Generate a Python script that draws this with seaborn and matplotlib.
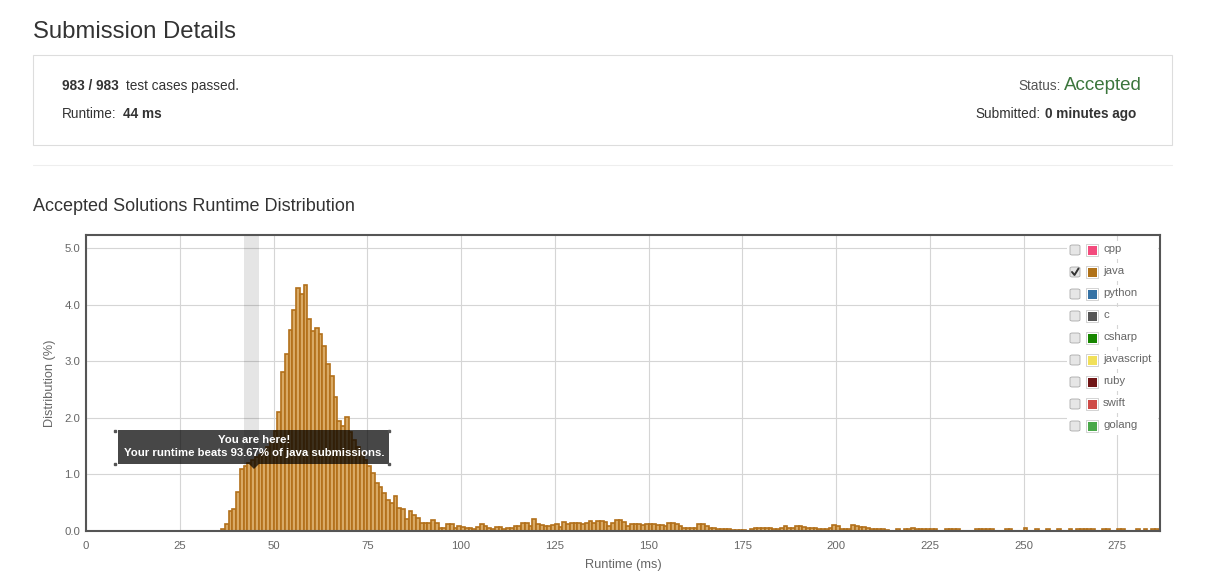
import matplotlib
matplotlib.use("Agg")
import matplotlib.pyplot as plt
import matplotlib as mpl
import seaborn as sns
from matplotlib.patches import Rectangle, FancyBboxPatch, Polygon
from matplotlib.lines import Line2D

# Runtime histogram (ms -> % of accepted java submissions)
runtime_ms = (
    list(range(36, 176))
    + list(range(177, 214))
    + [216, 218, 219, 220, 221, 222, 223, 224, 225, 226, 229, 230, 231, 232,
       237, 238, 239, 240, 241, 245, 246, 250, 253, 256, 259, 262,
       264, 265, 266, 267, 268, 271, 272, 275, 276, 280, 282, 284, 285]
)
distribution = [
    # 36 - 85
    0.03, 0.13, 0.36, 0.39, 0.69, 1.10, 1.15, 1.20, 1.25, 1.30,
    1.35, 1.40, 1.48, 1.58, 1.76, 2.11, 2.81, 3.13, 3.56, 3.90,
    4.30, 4.19, 4.35, 3.74, 3.54, 3.58, 3.48, 3.26, 2.95, 2.74,
    2.36, 1.94, 1.86, 2.02, 1.75, 1.61, 1.49, 1.38, 1.25, 1.15,
    1.03, 0.84, 0.77, 0.68, 0.55, 0.49, 0.62, 0.41, 0.39, 0.21,
    # 86 - 120
    0.36, 0.28, 0.23, 0.14, 0.14, 0.14, 0.19, 0.14, 0.06, 0.06,
    0.12, 0.13, 0.06, 0.09, 0.07, 0.06, 0.05, 0.04, 0.07, 0.12,
    0.09, 0.06, 0.04, 0.07, 0.07, 0.04, 0.06, 0.06, 0.08, 0.08,
    0.15, 0.15, 0.09, 0.21, 0.12,
    # 121 - 175
    0.10, 0.09, 0.08, 0.10, 0.13, 0.07, 0.16, 0.13, 0.15, 0.15,
    0.15, 0.13, 0.15, 0.18, 0.14, 0.18, 0.18, 0.16, 0.09, 0.15,
    0.19, 0.19, 0.16, 0.09, 0.13, 0.13, 0.13, 0.11, 0.12, 0.12,
    0.12, 0.10, 0.10, 0.09, 0.15, 0.15, 0.13, 0.09, 0.06, 0.06,
    0.06, 0.06, 0.12, 0.12, 0.08, 0.06, 0.05, 0.04, 0.04, 0.03,
    0.03, 0.02, 0.02, 0.02, 0.02,
    # 177 - 213
    0.03, 0.06, 0.05, 0.05, 0.06, 0.05, 0.04, 0.04, 0.05, 0.09,
    0.06, 0.06, 0.08, 0.08, 0.07, 0.06, 0.06, 0.06, 0.04, 0.04,
    0.04, 0.06, 0.11, 0.09, 0.04, 0.04, 0.04, 0.10, 0.09, 0.07,
    0.07, 0.05, 0.03, 0.03, 0.03, 0.04, 0.02,
    # sparse tail
    0.03, 0.03, 0.04, 0.06, 0.04, 0.03, 0.03, 0.03, 0.03, 0.03,
    0.03, 0.03, 0.03, 0.03, 0.03, 0.03, 0.03, 0.03, 0.03, 0.03,
    0.03, 0.05, 0.03, 0.03, 0.03, 0.03, 0.03, 0.03, 0.03, 0.03,
    0.03, 0.03, 0.03, 0.04, 0.04, 0.03, 0.03, 0.03, 0.03,
]

x_ticks = [0, 25, 50, 75, 100, 125, 150, 175, 200, 225, 250, 275]
y_ticks = [0.0, 1.0, 2.0, 3.0, 4.0, 5.0]
y_tick_labels = ["0.0", "1.0", "2.0", "3.0", "4.0", "5.0"]

languages = ["cpp", "java", "python", "c", "csharp", "javascript", "ruby", "swift", "golang"]
language_colors = ["#f34b7d", "#b07219", "#3572a5", "#555555", "#178600",
                   "#f1e05a", "#701516", "#cf4b47", "#4aa84a"]

my_runtime = 44
beats_pct = 93.67

sns.set_style("whitegrid")
plt.rcParams["font.family"] = ["Liberation Sans", "DejaVu Sans"]

W, H = 1212, 587
fig = plt.figure(figsize=(W / 100, H / 100), dpi=100)


def fx(x):
    return x / W


def fy(y):
    return 1 - y / H


def ftext(x, y, s, **kw):
    kw.setdefault("va", "center")
    kw.setdefault("color", "#333333")
    return fig.text(fx(x), fy(y), s, **kw)


# header
ftext(33, 32, "Submission Details", fontsize=17.2)
fig.add_artist(Rectangle((fx(33), fy(145)), fx(1172) - fx(33), fy(55) - fy(145),
                         transform=fig.transFigure, fill=False, edgecolor="#dddddd", linewidth=0.8))
ftext(62, 86, "983 / 983", fontsize=9.8, fontweight="bold")
ftext(126, 86, "test cases passed.", fontsize=9.8)
ftext(62, 114, "Runtime:", fontsize=9.8)
ftext(123, 114, f"{my_runtime} ms", fontsize=9.8, fontweight="bold")
ftext(1061, 86, "Status:", fontsize=9.8, ha="right", color="#555555")
ftext(1064, 85, "Accepted", fontsize=13.5, color="#3c763d")
ftext(1041, 114, "Submitted:", fontsize=9.8, ha="right")
ftext(1045, 114, "0 minutes ago", fontsize=9.8, fontweight="bold")
fig.add_artist(Line2D([fx(33), fx(1172)], [fy(165), fy(165)], transform=fig.transFigure,
                      color="#eeeeee", linewidth=0.8))
ftext(33, 207, "Accepted Solutions Runtime Distribution", fontsize=13)

# chart
ax = fig.add_axes([fx(86), fy(531), fx(1160) - fx(86), fy(235) - fy(531)])
ax.set_facecolor("white")
ax.axvspan(my_runtime - 2, my_runtime + 2, color="#000000", alpha=0.1, linewidth=0, zorder=1)
sns.histplot(x=runtime_ms, weights=distribution, binwidth=1, binrange=(0, 287),
             color="#d9aa66", edgecolor="#b2701a", linewidth=1.2, alpha=1,
             ax=ax, zorder=2)
ax.set_xlim(0, 286.4)
ax.set_ylim(0, 5.23)
ax.set_xticks(x_ticks)
ax.set_yticks(y_ticks)
ax.set_yticklabels(y_tick_labels)
ax.grid(True, color="#d5d5d5", linewidth=0.8)
ax.set_axisbelow(True)
ax.tick_params(axis="both", length=0, labelsize=8.2, colors="#666666")
ax.tick_params(axis="x", pad=7)
ax.tick_params(axis="y", pad=4)
ax.set_xlabel("Runtime (ms)", fontsize=9.2, color="#666666", labelpad=6)
ax.set_ylabel("Distribution (%)", fontsize=9.2, color="#666666", labelpad=6)
for sp in ax.spines.values():
    sp.set_visible(True)
    sp.set_color("#555555")
    sp.set_linewidth(1.5)

# legend
for i, (lang, col) in enumerate(zip(languages, language_colors)):
    yc = 250 + 22 * i
    fig.add_artist(Rectangle((fx(1067), fy(yc + 9)), fx(1158) - fx(1067), fy(yc - 9) - fy(yc + 9),
                             transform=fig.transFigure, facecolor="white", edgecolor="none"))
    fig.add_artist(FancyBboxPatch((fx(1070), fy(yc + 5)), fx(10), fy(0) - fy(10),
                                  boxstyle="round,pad=0,rounding_size=0.002",
                                  transform=fig.transFigure, facecolor="#e6e6e6",
                                  edgecolor="#aaaaaa", linewidth=0.6))
    fig.add_artist(Rectangle((fx(1086), fy(yc + 6)), fx(12), fy(0) - fy(12),
                             transform=fig.transFigure, facecolor="white",
                             edgecolor="#cccccc", linewidth=0.6))
    fig.add_artist(Rectangle((fx(1087.5), fy(yc + 4.5)), fx(9), fy(0) - fy(9),
                             transform=fig.transFigure, facecolor=col, edgecolor="none"))
    ftext(1103, yc - 1, lang, fontsize=8.2, color="#666666")
    if lang == "java":
        fig.add_artist(Line2D([fx(1072), fx(1074.5), fx(1078.5)], [fy(yc), fy(yc + 3), fy(yc - 3.5)],
                              transform=fig.transFigure, color="#333333", linewidth=1.4))

# tooltip
fig.add_artist(Rectangle((fx(118), fy(464)), fx(389) - fx(118), fy(430) - fy(464),
                         transform=fig.transFigure, facecolor="black", alpha=0.72, edgecolor="none"))
fig.add_artist(Polygon([(fx(249), fy(464)), (fx(259), fy(464)), (fx(254), fy(469))],
                       closed=True, transform=fig.transFigure, facecolor="black", alpha=0.72,
                       edgecolor="none"))
for cx, cy in [(115, 431), (389, 431), (115, 464), (389, 464)]:
    fig.add_artist(Line2D([fx(cx)], [fy(cy)], transform=fig.transFigure, marker="s",
                          markersize=1.5, color="#555555", linestyle="none"))
ftext(254, 440, "You are here!", fontsize=8.2, fontweight="bold", color="white", ha="center")
ftext(254, 453, f"Your runtime beats {beats_pct:.2f}% of java submissions.", fontsize=8.2,
      fontweight="bold", color="white", ha="center")

fig.savefig("out.png", dpi=100)
